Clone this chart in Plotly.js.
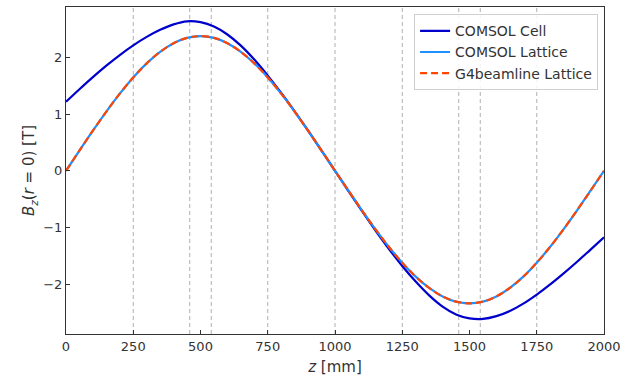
<!DOCTYPE html>
<html>
<head>
<meta charset="utf-8">
<script src="https://cdn.plot.ly/plotly-3.0.1.min.js"></script>
<style>html,body{margin:0;padding:0;background:#fff;}#chart{width:643px;height:381px;}</style>
</head>
<body>
<div id="chart"></div>
<script>
var z = [0,50,100,150,200,250,300,350,400,450,500,550,600,650,700,750,800,850,900,950,1000,
         1050,1100,1150,1200,1250,1300,1350,1400,1450,1500,1550,1600,1650,1700,1750,1800,1850,1900,1950,2000];
var comsolCell = [1.217,1.439,1.653,1.855,2.042,2.212,2.362,2.487,2.584,2.638,2.622,2.545,2.405,2.208,1.962,1.680,1.376,1.050,0.708,0.356,0.0,
         -0.357,-0.709,-1.051,-1.376,-1.679,-1.955,-2.198,-2.396,-2.534,-2.604,-2.614,-2.565,-2.475,-2.345,-2.185,-2.005,-1.810,-1.605,-1.390,-1.175];
var comsolLattice = [0.0,0.357,0.708,1.045,1.361,1.647,1.896,2.099,2.251,2.344,2.375,2.344,2.251,2.099,1.896,1.647,1.361,1.045,0.708,0.357,0.0,
         -0.352,-0.697,-1.029,-1.341,-1.622,-1.868,-2.068,-2.217,-2.309,-2.340,-2.309,-2.217,-2.068,-1.868,-1.622,-1.341,-1.029,-0.697,-0.352,0.0];
var g4Lattice = [0.0,0.357,0.708,1.045,1.361,1.647,1.896,2.099,2.251,2.344,2.375,2.344,2.251,2.099,1.896,1.647,1.361,1.045,0.708,0.357,0.0,
         -0.352,-0.697,-1.029,-1.341,-1.622,-1.868,-2.068,-2.217,-2.309,-2.340,-2.309,-2.217,-2.068,-1.868,-1.622,-1.341,-1.029,-0.697,-0.352,0.0];
var guideZ = [250,460,540,750,1000,1250,1460,1540,1750];
var xTicks = [0,250,500,750,1000,1250,1500,1750,2000];
var yTicks = [-2,-1,0,1,2];

var yTickText = yTicks.map(function(v){ return v < 0 ? '\u2212' + Math.abs(v) : String(v); });

var traces = [
  {x: z, y: comsolCell, type: 'scatter', mode: 'lines', name: 'COMSOL Cell',
   line: {color: '#0000CD', width: 2.2, shape: 'spline', smoothing: 1.0}},
  {x: z, y: comsolLattice, type: 'scatter', mode: 'lines', name: 'COMSOL Lattice',
   line: {color: '#1E90FF', width: 2.2, shape: 'spline', smoothing: 1.0}},
  {x: z, y: g4Lattice, type: 'scatter', mode: 'lines', name: 'G4beamline Lattice',
   line: {color: '#FF4500', width: 2.2, dash: '7px,4px', shape: 'spline', smoothing: 1.0}}
];

var shapes = guideZ.map(function(v){
  return {type: 'line', xref: 'x', yref: 'paper', x0: v, x1: v, y0: 0, y1: 1,
          line: {color: '#b0b0b0', width: 1, dash: '4px,3px'}, layer: 'below'};
});

var layout = {
  width: 643, height: 381,
  margin: {l: 66, r: 39, t: 7, b: 47, pad: 0},
  paper_bgcolor: '#fff', plot_bgcolor: '#fff',
  font: {family: 'DejaVu Sans, sans-serif', size: 13, color: '#333'},
  showlegend: true,
  legend: {x: 0.989, y: 0.978, xanchor: 'right', yanchor: 'top',
           bgcolor: 'rgba(255,255,255,0.85)', bordercolor: '#d0d0d0', borderwidth: 1,
           font: {size: 14, color: '#333'}, itemwidth: 30, tracegroupgap: 0},
  xaxis: {range: [0, 2000], tickvals: xTicks, ticktext: xTicks.map(String),
          ticks: 'inside', ticklen: 4, tickcolor: '#333', tickwidth: 1,
          showline: true, linecolor: '#333', linewidth: 1, mirror: true,
          showgrid: false, zeroline: false,
          title: {text: '<i>z</i> [mm]', font: {size: 15, color: '#333'}, standoff: 8}},
  yaxis: {range: [-2.88, 2.89], tickvals: yTicks, ticktext: yTickText,
          ticks: 'inside', ticklen: 4, tickcolor: '#333', tickwidth: 1,
          showline: true, linecolor: '#333', linewidth: 1, mirror: true,
          showgrid: false, zeroline: false,
          title: {text: '<i>B</i><sub><i>z</i></sub>(<i>r</i> = 0) [T]', font: {size: 15, color: '#333'}, standoff: 4}},
  shapes: shapes
};

Plotly.newPlot('chart', traces, layout, {displayModeBar: false, staticPlot: true});
</script>
</body>
</html>
